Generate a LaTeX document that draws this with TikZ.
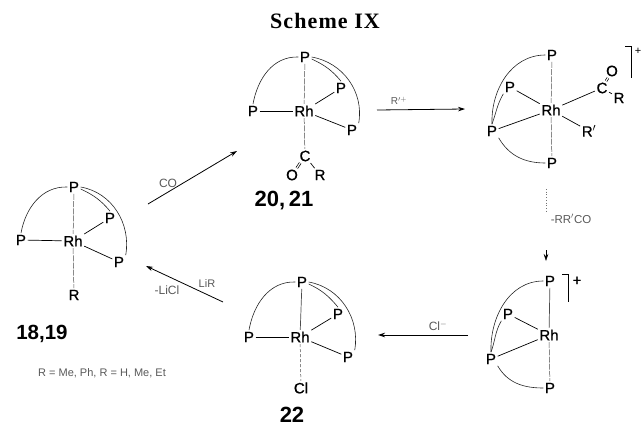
\documentclass[tikz,border=0pt]{standalone}
\usepackage{fontspec}
\setmainfont{Liberation Sans}
\newfontfamily\titlefont[LetterSpace=5]{Liberation Serif}
\newfontfamily\atomfont[FakeBold=0.8]{Liberation Sans}
\usetikzlibrary{arrows.meta}

\begin{document}
\begin{tikzpicture}[
  x=1pt, y=-1pt,
  atom/.style={font=\fontsize{15}{16}\selectfont\atomfont, inner sep=1.5pt},
  number/.style={font=\fontsize{22}{24}\selectfont\bfseries, inner sep=0pt},
  cond/.style={font=\fontsize{12}{14}\selectfont, text=black!65, inner sep=0pt},
  bond/.style={line width=0.7pt},
  faint/.style={line width=0.5pt, black!70, dash pattern=on 6pt off 1.2pt},
  arc/.style={line width=0.6pt, black!85},
  arrow/.style={-{Stealth[length=7pt,width=4.5pt]}, line width=0.8pt}
]
\useasboundingbox (0,0) rectangle (641,426);
\node[font=\fontsize{22}{24}\selectfont\titlefont\bfseries] (title) at (325,21) {Scheme IX};

% 18,19
\node[atom] (ap1) at (74,187) {P};
\node[atom] (ap2) at (21,240) {P};
\node[atom] (arh) at (73,241) {Rh};
\node[atom] (ap3) at (110,218) {P};
\node[atom] (ap4) at (119,262) {P};
\node[atom] (ar)  at (74,295) {R};
\node[number, font=\fontsize{20.5}{24}\selectfont\bfseries] (anum) at (42,334) {18,19};
\node[cond, font=\fontsize{11}{13}\selectfont] (anote) at (102,373) {R = Me, Ph, R = H, Me, Et};
\draw[faint] (ap1) -- (arh);
\draw[bond] (ap2) -- (arh);
\draw[bond] (arh) -- (ap3);
\draw[bond] (arh) -- (ap4);
\draw[faint] (arh) -- (ar);
\draw[arc] (ap1.west) to[out=178,in=80] (ap2.north);
\draw[arc] (ap1.east) to[out=-10,in=80] (ap4.north east);
\draw[arc] ([yshift=-2pt]ap1.east) to[out=-25,in=130] (ap3.north);

% 20,21
\node[atom] (bp1) at (305,57) {P};
\node[atom] (bp2) at (253,111) {P};
\node[atom] (brh) at (304,111) {Rh};
\node[atom] (bp3) at (341,88) {P};
\node[atom] (bp4) at (352,130) {P};
\node[atom] (bc)  at (305,156) {C};
\node[atom] (bo)  at (292,175) {O};
\node[atom] (br)  at (320,175) {R};
\node[number] (bnum) at (284,201) {20,\,21};
\draw[faint] (bp1) -- (brh);
\draw[bond] (bp2) -- (brh);
\draw[bond] (brh) -- (bp3);
\draw[bond] (brh) -- (bp4);
\draw[faint] (brh) -- (bc);
\draw[bond] (bc) -- (br);
\draw[bond, double, double distance=1.2pt] (bc) -- (bo);
\draw[arc] (bp1.west) to[out=178,in=80] (bp2.north);
\draw[arc] (bp1.east) to[out=-10,in=80] (bp4.north east);
\draw[arc] ([yshift=-2pt]bp1.east) to[out=-25,in=130] (bp3.north);

% acyl cation
\node[atom] (cp1) at (552,55) {P};
\node[atom] (cp2) at (510,87) {P};
\node[atom] (crh) at (551,110) {Rh};
\node[atom] (cp3) at (492,131) {P};
\node[atom] (cp4) at (552,163) {P};
\node[atom] (cc)  at (602,88) {C};
\node[atom] (co)  at (612,71) {O};
\node[atom] (cr)  at (619,98) {R};
\node[atom] (crp) at (589,131) {R$'$};
\node[atom, font=\fontsize{11}{12}\selectfont] (cplus) at (638,51) {+};
\coordinate (cb1) at (625,46);
\coordinate (cb2) at (631,46);
\coordinate (cb3) at (631,78);
\draw[faint] (cp1) -- (crh);
\draw[bond] (cp2) -- (crh);
\draw[bond] (cp3) -- (crh);
\draw[faint] (crh) -- (cp4);
\draw[bond] (crh) -- (cc);
\draw[bond] (crh) -- (crp);
\draw[bond] (cc) -- (cr);
\draw[bond, double, double distance=1.2pt] (cc) -- (co);
\draw[bond] (cb1) -- (cb2) -- (cb3);
\draw[arc] (cp1.west) to[out=180,in=92] (cp3.north);
\draw[arc] (cp3.south east) to[out=-60,in=180] (cp4.west);
\draw[arc] (cp2.south west) to[out=-120,in=70] (cp3.north);

% cation
\node[atom] (dp1) at (550,281) {P};
\node[atom] (dp2) at (508,314) {P};
\node[atom] (drh) at (549,335) {Rh};
\node[atom] (dp3) at (491,359) {P};
\node[atom] (dp4) at (550,388) {P};
\node[atom] (dplus) at (577,281) {+};
\coordinate (db1) at (562,274);
\coordinate (db2) at (568,274);
\coordinate (db3) at (568,302);
\draw[bond, black!70] (dp1) -- (drh);
\draw[bond] (dp2) -- (drh);
\draw[bond] (dp3) -- (drh);
\draw[faint] (drh) -- (dp4);
\draw[bond] (db1) -- (db2) -- (db3);
\draw[arc] (dp1.west) to[out=180,in=92] (dp3.north);
\draw[arc] (dp3.south east) to[out=-60,in=180] (dp4.west);
\draw[arc] (dp2.south west) to[out=-120,in=70] (dp3.north);

% 22
\node[atom] (ep1) at (302,282) {P};
\node[atom] (ep2) at (249,337) {P};
\node[atom] (erh) at (300,337) {Rh};
\node[atom] (ep3) at (338,314) {P};
\node[atom] (ep4) at (348,357) {P};
\node[atom] (ecl) at (301,388) {Cl};
\node[number] (enum) at (292,415) {22};
\draw[bond, black!70] (ep1) -- (erh);
\draw[bond] (ep2) -- (erh);
\draw[bond] (erh) -- (ep3);
\draw[bond] (erh) -- (ep4);
\draw[faint, dash pattern=on 3pt off 2pt] (erh) -- (ecl);
\draw[arc] (ep1.west) to[out=178,in=80] (ep2.north);
\draw[arc] (ep1.east) to[out=-10,in=80] (ep4.north east);
\draw[arc] ([yshift=-2pt]ep1.east) to[out=-25,in=130] (ep3.north);

% reaction arrows
\coordinate (co1) at (148,204);
\coordinate (co2) at (237,151);
\draw[arrow] (co1) -- (co2);
\node[cond] (colabel) at (168,183) {CO};
\coordinate (rp1) at (377,110);
\coordinate (rp2) at (465,109);
\draw[arrow] (rp1) -- (rp2);
\node[cond, font=\fontsize{10}{12}\selectfont] (rplabel) at (399,101) {R$'^{+}$};
\coordinate (rr1) at (546,189);
\coordinate (rr2) at (546,212);
\coordinate (rr3) at (546,250);
\coordinate (rr4) at (546,261);
\draw[bond, black!55, dotted] (rr1) -- (rr2);
\draw[arrow, line width=0.5pt] (rr3) -- (rr4);
\node[cond, font=\fontsize{11.5}{13}\selectfont] (rrlabel) at (571,219) {-RR$'$CO};
\coordinate (cl1) at (468,335);
\coordinate (cl2) at (378,335);
\draw[arrow] (cl1) -- (cl2);
\node[cond] (cllabel) at (438,326) {Cl$^{-}$};
\coordinate (li1) at (223,302);
\coordinate (li2) at (146,266);
\draw[arrow] (li1) -- (li2);
\node[cond, font=\fontsize{11}{13}\selectfont] (lilabel) at (207,284) {LiR};
\node[cond] (liclabel) at (167,290) {-LiCl};
\end{tikzpicture}
\end{document}
